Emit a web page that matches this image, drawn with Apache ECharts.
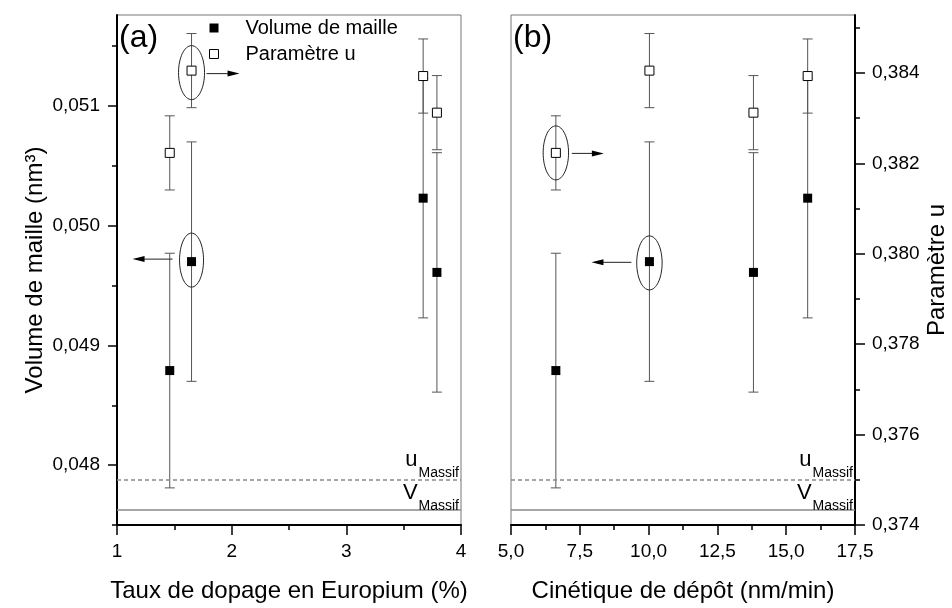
<!DOCTYPE html>
<html>
<head>
<meta charset="utf-8">
<script src="https://cdn.jsdelivr.net/npm/echarts@6/dist/echarts.min.js"></script>
<style>html,body{margin:0;padding:0;background:#fff}#c{width:952px;height:608px}</style>
</head>
<body>
<div id="c"></div>
<script>
// ---- data ----
const dopage = [1.46, 1.65, 3.67, 3.79];            // Taux de dopage en Europium (%)
const cinetique = [6.63, 10.03, 15.78, 13.81];      // Cinétique de dépôt (nm/min)
const volume = [0.04879, 0.04970, 0.05023, 0.04961]; // Volume de maille (nm3)
const volumeErr = [0.00098, 0.00100, 0.00100, 0.00100];
const paramU = [0.38223, 0.38405, 0.38393, 0.38312]; // Paramètre u
const paramUErr = [0.00082, 0.00082, 0.00082, 0.00082];
const uMassif = 0.375;
const vMassif = 0.04763;
const volTicks = [0.048, 0.049, 0.050, 0.051];
const volMinorTicks = [0.0475, 0.0485, 0.0495, 0.0505, 0.0515];
const uTicks = [0.374, 0.376, 0.378, 0.380, 0.382, 0.384];
const uMinorTicks = [0.375, 0.377, 0.379, 0.381, 0.383, 0.385];
const legendNames = ['Volume de maille', 'Paramètre u'];

const FONT = '"Liberation Sans", Arial, sans-serif';
const volRange = [0.0475, 0.05176];
const uRange = [0.374, 0.38528];

const comma = (d) => (v) => v.toFixed(d).replace('.', ',');

function hiddenY(grid, pos, range) {
  return { type: 'value', gridIndex: grid, position: pos, min: range[0], max: range[1], show: false, splitLine: { show: false } };
}
function tickY(grid, pos, range, vals, len, labels, name) {
  const ax = {
    type: 'value', gridIndex: grid, position: pos, min: range[0], max: range[1],
    axisLine: { show: labels, lineStyle: { color: '#000', width: 2 } },
    axisTick: { show: true, customValues: vals, length: len, lineStyle: { color: '#000', width: 1.5 } },
    axisLabel: { show: labels, customValues: vals, formatter: comma(3), fontSize: 19, color: '#000', fontFamily: FONT, margin: 17 },
    splitLine: { show: false }
  };
  if (name) {
    ax.name = name; ax.nameLocation = 'middle'; ax.nameGap = 70;
    ax.nameTextStyle = { fontSize: 24, color: '#000', fontFamily: FONT };
  }
  return ax;
}
function xAx(grid, min, max, interval, dec, name) {
  return {
    type: 'value', gridIndex: grid, min: min, max: max, interval: interval,
    axisLine: { onZero: false, lineStyle: { color: '#000', width: 2 } },
    axisTick: { length: 10, lineStyle: { color: '#000', width: 1.5 } },
    minorTick: { show: true, splitNumber: 2, length: 5, lineStyle: { color: '#000', width: 1.5 } },
    axisLabel: { formatter: comma(dec), fontSize: 19, color: '#000', fontFamily: FONT, margin: 17 },
    splitLine: { show: false }, minorSplitLine: { show: false },
    name: name, nameLocation: 'middle', nameGap: 54,
    nameTextStyle: { fontSize: 24, color: '#000', fontFamily: FONT }
  };
}

function errorBars(xs, ys, errs, xi, yi) {
  return {
    type: 'custom', xAxisIndex: xi, yAxisIndex: yi, silent: true, z: 1,
    data: xs.map((x, i) => [x, ys[i] - errs[i], ys[i] + errs[i]]),
    encode: { x: 0, y: [1, 2] },
    renderItem: function (params, api) {
      const x = api.value(0);
      const lo = api.coord([x, api.value(1)]);
      const hi = api.coord([x, api.value(2)]);
      const w = 5;
      const st = { stroke: '#555', lineWidth: 1 };
      return {
        type: 'group', children: [
          { type: 'line', shape: { x1: lo[0], y1: lo[1], x2: hi[0], y2: hi[1] }, style: st },
          { type: 'line', shape: { x1: lo[0] - w, y1: lo[1], x2: lo[0] + w, y2: lo[1] }, style: st },
          { type: 'line', shape: { x1: hi[0] - w, y1: hi[1], x2: hi[0] + w, y2: hi[1] }, style: st }
        ]
      };
    }
  };
}

const massifRich = {
  b: { fontSize: 22, lineHeight: 22, padding: [0, 0, 9, 0], color: '#000', fontFamily: FONT },
  s: { fontSize: 14, lineHeight: 14, padding: [17, 0, 0, 1], color: '#000', fontFamily: FONT }
};
function massifLine(value, letter, dashed, dist) {
  return {
    silent: true, symbol: 'none', precision: 6,
    lineStyle: { color: '#888', width: 1.5, type: dashed ? [4, 3] : 'solid' },
    label: { show: true, position: 'insideEndTop', distance: dist, formatter: '{b|' + letter + '}{s|Massif}', rich: massifRich },
    data: [{ yAxis: value }]
  };
}

function volSeries(xs, xi, yi) {
  return {
    name: legendNames[0], type: 'scatter', xAxisIndex: xi, yAxisIndex: yi, z: 3,
    symbol: 'rect', symbolSize: 9, itemStyle: { color: '#000', opacity: 1 },
    data: xs.map((x, i) => [x, volume[i]]),
    markLine: massifLine(vMassif, 'V', false, [2, 1])
  };
}
function uSeries(xs, xi, yi) {
  return {
    name: legendNames[1], type: 'scatter', xAxisIndex: xi, yAxisIndex: yi, z: 3,
    symbol: 'rect', symbolSize: 9, itemStyle: { color: '#fff', borderColor: '#000', borderWidth: 1, opacity: 1 },
    data: xs.map((x, i) => [x, paramU[i]]),
    markLine: massifLine(uMassif, 'u', true, [2, 4])
  };
}

const chart = echarts.init(document.getElementById('c'), null, { renderer: 'canvas' });
const option = {
  backgroundColor: '#fff',
  animation: false,
  textStyle: { fontFamily: FONT },
  grid: [
    { left: 117, top: 15, width: 344, height: 515, show: true, borderColor: '#777', borderWidth: 1 },
    { left: 511, top: 15, width: 344, height: 515, show: true, borderColor: '#777', borderWidth: 1 }
  ],
  legend: {
    data: legendNames, orient: 'vertical', left: 209, top: 18, padding: 0,
    itemWidth: 9, itemHeight: 9, itemGap: 6,
    itemStyle: { borderWidth: 1 },
    textStyle: { fontSize: 20, color: '#000', fontFamily: FONT, padding: [0, 0, 0, 22] }
  },
  xAxis: [
    xAx(0, 1, 4, 1, 0, 'Taux de dopage en Europium (%)'),
    xAx(1, 5, 17.5, 2.5, 1, 'Cinétique de dépôt (nm/min)')
  ],
  yAxis: [
    tickY(0, 'left', volRange, volTicks, 9, true, 'Volume de maille (nm³)'), // 0
    tickY(0, 'left', volRange, volMinorTicks, 5, false),                      // 1
    hiddenY(0, 'right', uRange),                                              // 2
    hiddenY(1, 'left', volRange),                                             // 3
    tickY(1, 'right', uRange, uTicks, 10, true, 'Paramètre u'),               // 4
    tickY(1, 'right', uRange, uMinorTicks, 5, false)                          // 5
  ],
  series: [
    errorBars(dopage, volume, volumeErr, 0, 0),
    errorBars(dopage, paramU, paramUErr, 0, 2),
    volSeries(dopage, 0, 0),   // 2
    uSeries(dopage, 0, 2),     // 3
    errorBars(cinetique, volume, volumeErr, 1, 3),
    errorBars(cinetique, paramU, paramUErr, 1, 4),
    volSeries(cinetique, 1, 3), // 6
    uSeries(cinetique, 1, 4)    // 7
  ]
};
chart.setOption(option);

// ---- annotations (ellipses + arrows), anchored on data points ----
const notes = [
  { series: 3, x: dopage[1], y: paramU[1], cy: 2, rx: 13, ry: 27, a0: 15, a1: 48, ay: 3 },
  { series: 2, x: dopage[1], y: volume[1], cy: -1.5, rx: 12, ry: 27, a0: -19, a1: -59, ay: -2.5 },
  { series: 7, x: cinetique[0], y: paramU[0], cy: 0, rx: 12.7, ry: 27, a0: 16, a1: 48, ay: 0.5 },
  { series: 6, x: cinetique[1], y: volume[1], cy: 1.3, rx: 12.7, ry: 27, a0: -18, a1: -58, ay: 0.7 }
];
const graphics = [];
notes.forEach((n) => {
  const p = chart.convertToPixel({ seriesIndex: n.series }, [n.x, n.y]);
  graphics.push({ type: 'ellipse', shape: { cx: p[0], cy: p[1] + n.cy, rx: n.rx, ry: n.ry }, style: { fill: null, stroke: '#222', lineWidth: 1 }, z: 10 });
  const dir = Math.sign(n.a1 - n.a0);
  const y = p[1] + n.ay;
  const xs = p[0] + n.a0, xe = p[0] + n.a1;
  graphics.push({ type: 'line', shape: { x1: xs, y1: y, x2: xe - dir * 11, y2: y }, style: { stroke: '#222', lineWidth: 1 }, z: 10 });
  graphics.push({ type: 'polygon', shape: { points: [[xe, y], [xe - dir * 12, y - 3], [xe - dir * 12, y + 3]] }, style: { fill: '#000' }, z: 10 });
});
graphics.push({ type: 'text', left: 119, top: 22, style: { text: '(a)', font: '32px ' + FONT, fill: '#000' }, z: 10 });
graphics.push({ type: 'text', left: 513, top: 22, style: { text: '(b)', font: '32px ' + FONT, fill: '#000' }, z: 10 });
chart.setOption({ graphic: graphics });
</script>
</body>
</html>
